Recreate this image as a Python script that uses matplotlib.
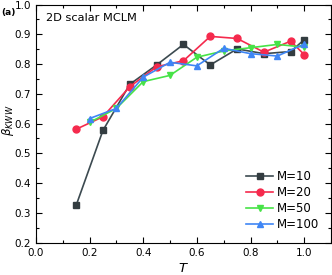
import matplotlib
matplotlib.use("Agg")
import matplotlib.pyplot as plt
from matplotlib.ticker import MultipleLocator

T_a = [0.15, 0.25, 0.35, 0.45, 0.55, 0.65, 0.75, 0.85, 0.95, 1.0]
T_b = [0.2, 0.3, 0.4, 0.5, 0.6, 0.7, 0.8, 0.9, 1.0]
m10 = [0.325, 0.577, 0.732, 0.797, 0.866, 0.797, 0.851, 0.835, 0.842, 0.882]
m20 = [0.581, 0.623, 0.724, 0.791, 0.811, 0.893, 0.886, 0.840, 0.877, 0.832]
m50 = [0.604, 0.651, 0.741, 0.762, 0.823, 0.844, 0.855, 0.866, 0.857]
m100 = [0.617, 0.651, 0.756, 0.806, 0.794, 0.853, 0.835, 0.827, 0.867]
labels = ["M=10", "M=20", "M=50", "M=100"]

fig = plt.figure(figsize=(3.32, 2.75), dpi=100)
ax = fig.add_axes([0.108, 0.1175, 0.889, 0.866])

ax.plot(T_a, m10, '-s', color='#3c4a50', mfc='#333c40', mec='#333c40', ms=4.5, lw=1.2, label=labels[0])
ax.plot(T_a, m20, '-o', color='#f52a4d', ms=5, lw=1.2, label=labels[1])
ax.plot(T_b, m50, '-v', color='#47e347', ms=5, lw=1.2, label=labels[2])
ax.plot(T_b, m100, '-^', color='#3f86f5', ms=5, lw=1.2, label=labels[3])

ax.set_xlim(0, 1.1)
ax.set_ylim(0.2, 1.0)
ax.xaxis.set_major_locator(MultipleLocator(0.2))
ax.xaxis.set_minor_locator(MultipleLocator(0.1))
ax.yaxis.set_major_locator(MultipleLocator(0.1))
ax.yaxis.set_minor_locator(MultipleLocator(0.05))
ax.tick_params(which='both', direction='in', top=True, right=True, labelsize=7.5, width=0.8)
ax.tick_params(which='major', length=4)
ax.tick_params(which='minor', length=2)
ax.set_xticks([0.0, 0.2, 0.4, 0.6, 0.8, 1.0])
ax.set_xticklabels(["0.0", "0.2", "0.4", "0.6", "0.8", "1.0"])

ax.set_xlabel("$T$", fontsize=9.5, labelpad=3)
ax.set_ylabel(r"$\beta_{KWW}$", fontsize=8.5)
ax.yaxis.set_label_coords(-0.067, 0.515)

ax.text(0.033, 0.965, "2D scalar MCLM", transform=ax.transAxes, fontsize=8.2, va='top', ha='left')
fig.text(0.005, 0.955, "(a)", fontsize=6.5, fontweight='bold', va='center', ha='left')

ax.legend(loc='lower right', frameon=False, fontsize=8.5, handlelength=2.3,
          handletextpad=0.3, labelspacing=0.25, borderaxespad=0.6)

fig.savefig("out.png", dpi=100)
